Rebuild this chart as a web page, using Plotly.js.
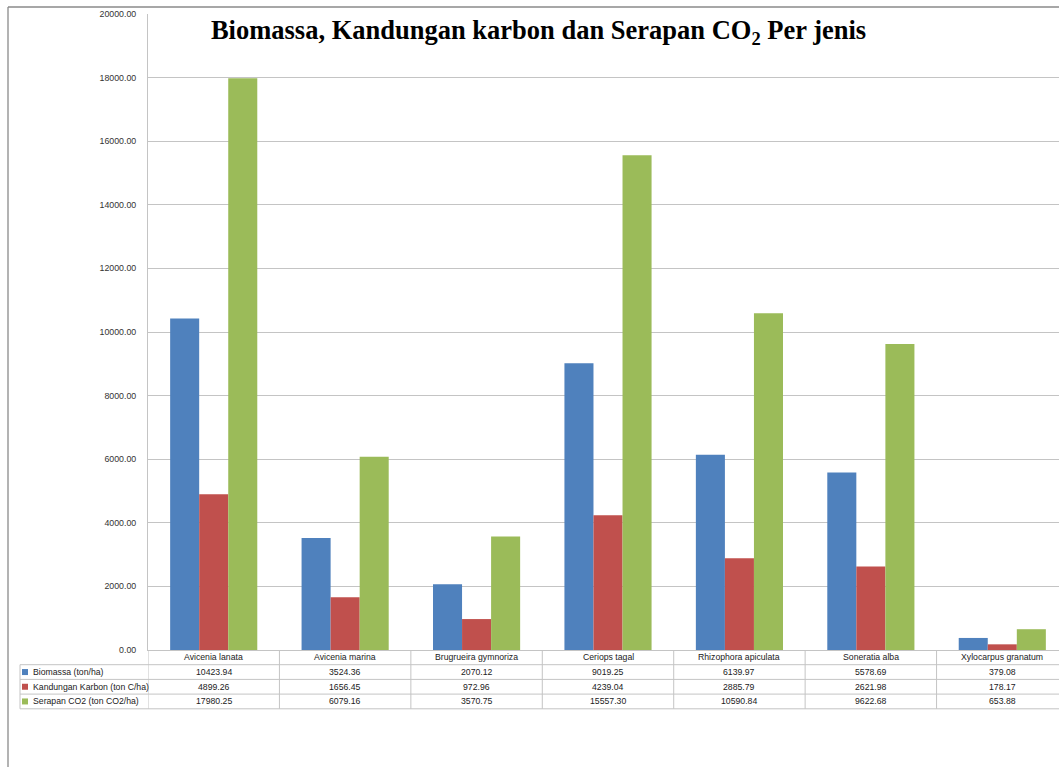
<!DOCTYPE html>
<html>
<head>
<meta charset="utf-8">
<script src="https://cdn.plot.ly/plotly-3.0.1.min.js"></script>
<style>
  html, body { margin: 0; padding: 0; overflow: hidden; background: #fff; }
  #chart { width: 1068px; height: 767px; }
</style>
</head>
<body>
<div id="chart"></div>
<script>
// Mangrove species and their per-hectare values
const species = ["Avicenia lanata", "Avicenia marina", "Brugrueira gymnoriza", "Ceriops tagal",
                 "Rhizophora apiculata", "Soneratia alba", "Xylocarpus granatum"];
const biomassa = [10423.94, 3524.36, 2070.12, 9019.25, 6139.97, 5578.69, 379.08];
const karbon   = [4899.26, 1656.45, 972.96, 4239.04, 2885.79, 2621.98, 178.17];
const serapan  = [17980.25, 6079.16, 3570.75, 15557.30, 10590.84, 9622.68, 653.88];
const seriesNames = ["Biomassa (ton/ha)", "Kandungan Karbon (ton C/ha)", "Serapan CO2 (ton CO2/ha)"];
const seriesColors = ["#4F81BD", "#C0504D", "#9BBB59"];
const yTicks = [0, 2000, 4000, 6000, 8000, 10000, 12000, 14000, 16000, 18000, 20000];

const seriesValues = [biomassa, karbon, serapan];
const gridColor = "#c4c4c4";
const tableFont = { family: "Liberation Sans, Arial, sans-serif", size: 8.7, color: "#222" };

const traces = seriesValues.map((vals, i) => ({
  type: "bar",
  name: seriesNames[i],
  x: species,
  y: vals,
  marker: { color: seriesColors[i] },
  hoverinfo: "x+y+name"
}));

// Data table under the axis: row centres and row borders, in pixels below the plot bottom
const rowH = 14.7;
const rowCenters = [0, 1, 2, 3].map(r => -(r + 0.5) * rowH);
const rowLines = [1, 2, 3, 4].map(r => -r * rowH);
const leftEdge = -128;   // left border of the label column, px from plot's left edge

const shapes = [];
const pxLine = (x0, x1, y0, y1, xref, extra) => Object.assign({
  type: "line", xref: xref, yref: "paper", ysizemode: "pixel", yanchor: 0,
  x0: x0, x1: x1, y0: y0, y1: y1, line: { color: gridColor, width: 1 }
}, extra || {});

// horizontal row borders across the label column and all category columns
rowLines.forEach(yy => {
  shapes.push({
    type: "line", xref: "paper", yref: "paper",
    xsizemode: "pixel", xanchor: 0, ysizemode: "pixel", yanchor: 0,
    x0: leftEdge, x1: 1000, y0: yy, y1: yy, line: { color: gridColor, width: 1 }
  });
});
// vertical borders between categories
for (let k = 0; k <= species.length; k++) {
  shapes.push(pxLine(k - 0.5, k - 0.5, 0, rowLines[3], "x"));
}
// left border of the label column
shapes.push({
  type: "line", xref: "paper", yref: "paper",
  xsizemode: "pixel", xanchor: 0, ysizemode: "pixel", yanchor: 0,
  x0: leftEdge, x1: leftEdge, y0: rowLines[0], y1: rowLines[3], line: { color: gridColor, width: 1 }
});
// colour keys in the label column
seriesColors.forEach((c, i) => {
  const cy = rowCenters[i + 1];
  shapes.push({
    type: "rect", xref: "paper", yref: "paper",
    xsizemode: "pixel", xanchor: 0, ysizemode: "pixel", yanchor: 0,
    x0: -126, x1: -120, y0: cy - 3, y1: cy + 3,
    fillcolor: c, line: { width: 0 }
  });
});
// outer chart frame (top and left edges)
shapes.push({
  type: "line", xref: "paper", yref: "paper",
  xsizemode: "pixel", xanchor: 0, ysizemode: "pixel", yanchor: 1,
  x0: -140, x1: 1000, y0: 7, y1: 7, line: { color: "#8a8a8a", width: 1.3 }
});
shapes.push({
  type: "line", xref: "paper", yref: "paper",
  xsizemode: "pixel", xanchor: 0, ysizemode: "pixel", yanchor: 1,
  x0: -140, x1: -140, y0: 7, y1: -800, line: { color: "#8a8a8a", width: 1.3 }
});

const annotations = [];
// category header row
species.forEach(s => {
  annotations.push({
    xref: "x", yref: "paper", x: s, y: 0, yshift: rowCenters[0],
    text: s, showarrow: false, xanchor: "center", yanchor: "middle", font: tableFont
  });
});
// value rows and series labels
seriesValues.forEach((vals, i) => {
  annotations.push({
    xref: "paper", yref: "paper", x: 0, xshift: -117, y: 0, yshift: rowCenters[i + 1],
    text: seriesNames[i], showarrow: false, xanchor: "left", yanchor: "middle", font: tableFont
  });
  vals.forEach((v, j) => {
    annotations.push({
      xref: "x", yref: "paper", x: species[j], y: 0, yshift: rowCenters[i + 1],
      text: v.toFixed(2), showarrow: false, xanchor: "center", yanchor: "middle", font: tableFont
    });
  });
});

const layout = {
  width: 1068,
  height: 767,
  margin: { l: 148, r: 0, t: 14, b: 117 },
  paper_bgcolor: "#ffffff",
  plot_bgcolor: "#ffffff",
  showlegend: false,
  barmode: "group",
  bargap: 0.337,
  bargroupgap: 0,
  title: {
    text: "Biomassa, Kandungan karbon dan Serapan CO<sub>2</sub> Per jenis",
    font: { family: "Liberation Serif, Times New Roman, serif", size: 26.5, weight: "bold", color: "#000" },
    xref: "paper", x: 0.4245, xanchor: "center",
    yref: "container", y: 1 - 30 / 767, yanchor: "middle"
  },
  xaxis: {
    type: "category",
    showticklabels: false,
    ticks: "",
    showgrid: false,
    showline: true,
    linecolor: gridColor,
    linewidth: 1,
    zeroline: false,
    range: [-0.5, species.length - 0.5]
  },
  yaxis: {
    range: [0, 20000],
    tickvals: yTicks,
    tickformat: ".2f",
    ticks: "",
    ticklabelstandoff: 9,
    tickfont: { family: "Liberation Sans, Arial, sans-serif", size: 8.8, color: "#333" },
    showgrid: true,
    gridcolor: gridColor,
    gridwidth: 1,
    showline: true,
    linecolor: gridColor,
    zeroline: false
  },
  shapes: shapes,
  annotations: annotations
};

Plotly.newPlot("chart", traces, layout, { displayModeBar: false, staticPlot: true });
</script>
</body>
</html>
